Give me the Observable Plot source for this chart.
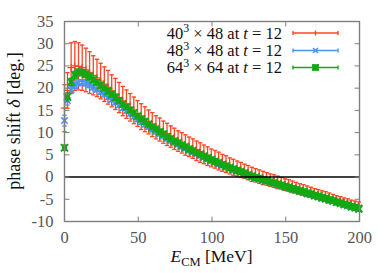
<!DOCTYPE html>
<html>
<head>
<meta charset="utf-8">
<script src="https://cdn.jsdelivr.net/npm/d3@7"></script>
<script src="https://cdn.jsdelivr.net/npm/@observablehq/plot@0.6"></script>
<style>
  html, body { margin: 0; padding: 0; background: #fff; }
  #chart { width: 390px; height: 273px; }
</style>
</head>
<body>
<div id="chart"></div>
<script>
// ---- data ----
const seriesNames = ["40", "48", "64"];
const seriesT = ["48", "48", "64"];
const seriesColors = ["#ff4422", "#4a93f0", "#14a814"];

const energy = [0,2,4.5,7,9.5,12,14.5,17,19.5,22,24.5,27,29.5,32,34.5,37,39.5,42,44.5,47,49.5,52,54.5,57,59.5,62,64.5,67,69.5,72,74.5,77,79.5,82,84.5,87,89.5,92,94.5,97,99.5,102,104.5,107,109.5,112,114.5,117,119.5,122,124.5,127,129.5,132,134.5,137,139.5,142,144.5,147,149.5,152,154.5,157,159.5,162,164.5,167,169.5,172,174.5,177,179.5,182,184.5,187,189.5,192,194.5,197,199.5];

const red40 = [15.5,19.5,24.6,25.0,24.9,24.6,24.1,23.5,22.9,22.3,21.6,20.9,20.2,19.4,18.7,17.9,17.1,16.4,15.7,15.0,14.3,13.6,13.0,12.4,11.8,11.2,10.7,10.1,9.6,9.1,8.6,8.1,7.7,7.2,6.8,6.4,5.9,5.5,5.1,4.7,4.3,4.0,3.6,3.2,2.9,2.5,2.2,1.9,1.6,1.3,1.0,0.6,0.4,0.1,-0.2,-0.4,-0.7,-0.9,-1.2,-1.4,-1.7,-1.9,-2.2,-2.4,-2.7,-2.9,-3.2,-3.4,-3.7,-3.9,-4.2,-4.4,-4.7,-4.9,-5.2,-5.4,-5.7,-5.9,-6.2,-6.4,-6.6];
const red40Err = [5.3,4.0,5.6,5.5,5.3,5.1,4.9,4.7,4.4,4.2,4.0,3.9,3.8,3.6,3.5,3.4,3.3,3.2,3.1,3.0,2.9,2.9,2.8,2.7,2.7,2.6,2.6,2.5,2.5,2.4,2.4,2.3,2.3,2.3,2.2,2.2,2.2,2.2,2.1,2.1,2.0,2.0,2.0,1.9,1.9,1.8,1.8,1.7,1.7,1.6,1.6,1.6,1.5,1.5,1.5,1.4,1.4,1.4,1.4,1.3,1.3,1.3,1.3,1.2,1.2,1.2,1.2,1.1,1.1,1.1,1.1,1.1,1.1,1.0,1.0,1.0,1.0,1.0,1.0,1.0,1.0];

const blue48 = [12.7,17.2,19.6,20.6,21.2,21.3,21.1,20.7,20.2,19.7,19.1,18.6,18.0,17.4,16.8,16.2,15.5,14.9,14.3,13.6,13.0,12.4,11.8,11.3,10.7,10.2,9.7,9.2,8.6,8.1,7.7,7.3,6.8,6.4,6.0,5.6,5.2,4.8,4.4,4.0,3.6,3.3,2.9,2.6,2.2,1.9,1.6,1.3,1.0,0.7,0.3,0.0,-0.3,-0.5,-0.8,-1.0,-1.3,-1.5,-1.8,-2.0,-2.3,-2.5,-2.8,-3.0,-3.3,-3.5,-3.8,-4.0,-4.3,-4.5,-4.8,-5.0,-5.3,-5.5,-5.8,-6.0,-6.3,-6.5,-6.8,-7.0,-7.3];
const blue48Err = [1.2,1.0,0.8,0.7,0.7,0.6,0.6,0.6,0.6,0.5,0.5,0.5,0.5,0.5,0.5,0.5,0.5,0.5,0.5,0.5,0.5,0.5,0.5,0.5,0.5,0.4,0.4,0.4,0.4,0.4,0.4,0.4,0.4,0.4,0.4,0.4,0.4,0.4,0.4,0.4,0.4,0.4,0.4,0.4,0.4,0.4,0.4,0.4,0.4,0.4,0.4,0.4,0.4,0.4,0.4,0.4,0.4,0.4,0.4,0.4,0.4,0.4,0.4,0.4,0.4,0.4,0.4,0.4,0.4,0.4,0.4,0.4,0.4,0.4,0.4,0.4,0.4,0.4,0.4,0.4,0.4];

const green64 = [6.6,18.0,21.4,23.0,23.6,23.5,23.1,22.6,21.9,21.3,20.6,20.0,19.3,18.6,17.9,17.2,16.4,15.8,15.1,14.4,13.7,13.1,12.5,11.9,11.3,10.8,10.2,9.7,9.1,8.6,8.1,7.7,7.2,6.8,6.3,5.9,5.5,5.1,4.7,4.3,3.9,3.5,3.2,2.8,2.5,2.1,1.8,1.5,1.2,0.9,0.5,0.2,-0.1,-0.3,-0.6,-0.8,-1.1,-1.3,-1.6,-1.8,-2.1,-2.3,-2.6,-2.8,-3.1,-3.3,-3.6,-3.8,-4.1,-4.3,-4.6,-4.8,-5.1,-5.3,-5.6,-5.8,-6.1,-6.3,-6.6,-6.8,-7.1];
const green64Err = [0.6,0.9,0.8,0.8,0.7,0.7,0.7,0.7,0.6,0.6,0.6,0.6,0.6,0.6,0.6,0.6,0.6,0.6,0.6,0.6,0.6,0.6,0.6,0.6,0.6,0.6,0.6,0.6,0.6,0.6,0.6,0.6,0.6,0.6,0.6,0.6,0.6,0.6,0.6,0.6,0.6,0.6,0.6,0.6,0.6,0.6,0.6,0.6,0.6,0.6,0.6,0.6,0.6,0.6,0.6,0.6,0.6,0.6,0.6,0.6,0.6,0.6,0.6,0.6,0.6,0.6,0.6,0.6,0.6,0.6,0.6,0.6,0.6,0.6,0.6,0.6,0.6,0.6,0.6,0.6,0.6];

const xTicks = [0, 50, 100, 150, 200];
const yTicks = [-10, -5, 0, 5, 10, 15, 20, 25, 30, 35];

// ---- build tables ----
const mk = (vals, errs) => energy.map((e, i) => ({E: e, d: vals[i], lo: vals[i] - errs[i], hi: vals[i] + errs[i]}));
const R = mk(red40, red40Err);
const B = mk(blue48, blue48Err);
const G = mk(green64, green64Err);

// ---- custom pixel-sized symbols ----
const capSym = {draw(ctx, size) { const r = Math.sqrt(size / Math.PI); ctx.moveTo(-r, 0); ctx.lineTo(r, 0); }};
const tickUp = {draw(ctx) { ctx.moveTo(0, 0); ctx.lineTo(0, -5); }};
const tickDown = {draw(ctx) { ctx.moveTo(0, 0); ctx.lineTo(0, 5); }};
const tickRight = {draw(ctx) { ctx.moveTo(0, 0); ctx.lineTo(5, 0); }};
const tickLeft = {draw(ctx) { ctx.moveTo(0, 0); ctx.lineTo(-5, 0); }};

const frameColor = "#7f7f7f";
const FONT = "Liberation Serif, DejaVu Serif, serif";

function errMarks(T, color, capR, sw) {
  return [
    Plot.ruleX(T, {x: "E", y1: "lo", y2: "hi", stroke: color, strokeWidth: sw}),
    Plot.dot(T, {x: "E", y: "hi", symbol: capSym, r: capR, stroke: color, strokeWidth: sw, fill: "none"}),
    Plot.dot(T, {x: "E", y: "lo", symbol: capSym, r: capR, stroke: color, strokeWidth: sw, fill: "none"})
  ];
}

const plot = Plot.plot({
  width: 390,
  height: 273,
  marginLeft: 64,
  marginRight: 31,
  marginTop: 21,
  marginBottom: 52,
  style: {fontFamily: FONT, fontSize: "16px", color: "#222", background: "#fff"},
  x: {domain: [0, 200]},
  y: {domain: [-10, 35]},
  marks: [
    Plot.axisX(xTicks, {tickSize: 0, tickPadding: 10, label: null, tickFormat: d => String(d), fill: "#555", fontFamily: FONT, fontSize: 16.5}),
    Plot.axisY(yTicks, {tickSize: 0, tickPadding: 11, label: null, tickFormat: d => String(d), fill: "#555", fontFamily: FONT, fontSize: 16.5}),
    // red 40^3
    ...errMarks(R, seriesColors[0], 2.2, 1.3),
    Plot.dot(R, {x: "E", y: "d", symbol: "plus", r: 2.5, stroke: seriesColors[0], strokeWidth: 1.2}),
    // blue 48^3
    ...errMarks(B, seriesColors[1], 2.2, 1.3),
    Plot.dot(B, {x: "E", y: "d", symbol: "times", r: 3, stroke: seriesColors[1], strokeWidth: 1.6}),
    // green 64^3
    ...errMarks(G, seriesColors[2], 2.2, 1.5),
    Plot.dot(G, {x: "E", y: "d", symbol: "square", r: 2.8, fill: seriesColors[2], stroke: "none"}),
    Plot.dot(G, {x: "E", y: "d", symbol: "times", r: 3.4, stroke: seriesColors[2], strokeWidth: 1.9}),
    // zero line
    Plot.ruleY([0], {stroke: "#000", strokeWidth: 1.4}),
    // frame and inward ticks
    Plot.frame({stroke: frameColor, strokeWidth: 1.4}),
    Plot.dot(xTicks, {x: d => d, y: -10, symbol: tickUp, stroke: frameColor, strokeWidth: 1, fill: "none"}),
    Plot.dot(xTicks, {x: d => d, y: 35, symbol: tickDown, stroke: frameColor, strokeWidth: 1, fill: "none"}),
    Plot.dot(yTicks, {x: 0, y: d => d, symbol: tickRight, stroke: frameColor, strokeWidth: 1, fill: "none"}),
    Plot.dot(yTicks, {x: 200, y: d => d, symbol: tickLeft, stroke: frameColor, strokeWidth: 1, fill: "none"})
  ]
});

document.getElementById("chart").appendChild(plot);

// ---- axis titles & legend as real SVG text ----
const svg = d3.select(plot);
const xs = plot.scale("x"), ys = plot.scale("y");
const cx = (xs.range[0] + xs.range[1]) / 2;
const cy = (ys.range[0] + ys.range[1]) / 2;

const xl = svg.append("text").attr("x", cx).attr("y", 262).attr("text-anchor", "middle")
  .style("font-family", FONT).style("font-size", "17.5px").attr("fill", "#111");
xl.append("tspan").style("font-style", "italic").text("E");
xl.append("tspan").attr("dy", 4).style("font-size", "12.5px").text("CM");
xl.append("tspan").attr("dy", -4).text(" [MeV]");

const yl = svg.append("text").attr("transform", `translate(20,${cy}) rotate(-90)`).attr("text-anchor", "middle")
  .style("font-family", FONT).style("font-size", "18px").attr("fill", "#111");
yl.append("tspan").text("phase shift ");
yl.append("tspan").style("font-style", "italic").text("δ");
yl.append("tspan").text(" [deg.]");

const rowsY = [33, 50.5, 67.5];
const lx1 = 293, lx2 = 338, lxm = 315.5;
seriesNames.forEach((n, i) => {
  const y = rowsY[i];
  const t = svg.append("text").attr("x", 282).attr("y", y + 5.5).attr("text-anchor", "end")
    .style("font-family", FONT).style("font-size", "16.5px").attr("fill", "#111");
  t.append("tspan").text(n);
  t.append("tspan").attr("dy", -6.5).style("font-size", "12px").text("3");
  t.append("tspan").attr("dy", 6.5).text(` × ${seriesT[i]} at `);
  t.append("tspan").style("font-style", "italic").text("t");
  t.append("tspan").text(" = 12");
  const g = svg.append("g").attr("stroke", seriesColors[i]).attr("stroke-width", 1.4).attr("fill", "none");
  g.append("line").attr("x1", lx1).attr("x2", lx2).attr("y1", y).attr("y2", y);
  g.append("line").attr("x1", lx1).attr("x2", lx1).attr("y1", y - 2).attr("y2", y + 2);
  g.append("line").attr("x1", lx2).attr("x2", lx2).attr("y1", y - 2).attr("y2", y + 2);
  if (i === 0) {
    g.append("line").attr("x1", lxm).attr("x2", lxm).attr("y1", y - 2.5).attr("y2", y + 2.5);
  } else if (i === 1) {
    g.append("path").attr("stroke-width", 1.6).attr("d", `M${lxm-2.5},${y-2.5}L${lxm+2.5},${y+2.5}M${lxm-2.5},${y+2.5}L${lxm+2.5},${y-2.5}`);
  } else {
    g.append("rect").attr("x", lxm - 2.6).attr("y", y - 2.6).attr("width", 5.2).attr("height", 5.2).attr("fill", seriesColors[i]);
    g.append("path").attr("stroke-width", 1.8).attr("d", `M${lxm-3},${y-3}L${lxm+3},${y+3}M${lxm-3},${y+3}L${lxm+3},${y-3}`);
  }
});
</script>
</body>
</html>
